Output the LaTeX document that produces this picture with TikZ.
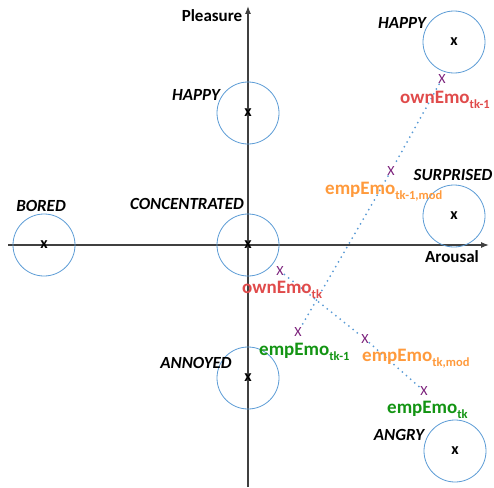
\documentclass[tikz,border=0pt]{standalone}
\usepackage{fontspec}
\setmainfont{Carlito}
\usetikzlibrary{arrows.meta}
\definecolor{cblue}{HTML}{5B9BD5}
\definecolor{cred}{HTML}{E04B4B}
\definecolor{corange}{HTML}{FF9A3C}
\definecolor{cgreen}{HTML}{139413}
\definecolor{cpurple}{HTML}{7A1F7A}
\definecolor{caxis}{HTML}{404040}
\newcommand{\lowsub}[1]{\raisebox{-0.6ex}{\fontsize{12.5}{12.5}\selectfont #1}}
\tikzset{
  x=1pt,y=-1pt,
  emo/.style={circle,draw=cblue,line width=0.8pt,minimum size=62pt,inner sep=0pt,font=\bfseries\fontsize{16}{16}\selectfont},
  emolabel/.style={font=\bfseries\itshape\fontsize{17}{17}\selectfont,inner sep=0pt},
  axislabel/.style={font=\bfseries\fontsize{17}{17}\selectfont,inner sep=0pt},
  xmark/.style={text=cpurple,font=\fontsize{14}{14}\selectfont,inner sep=0.5pt},
  vlabel/.style={font=\bfseries\fontsize{19}{19}\selectfont,inner sep=0pt,anchor=base west},
  axis/.style={draw=caxis,line width=1.2pt,-{Latex[length=8pt,width=6pt]}},
  traj/.style={draw=cblue,line width=2pt,dash pattern=on 0pt off 5.5pt,line cap=round}
}
\begin{document}
\begin{tikzpicture}
\useasboundingbox (0,0) rectangle (494,487);
% axes
\coordinate (xs) at (8,245);
\coordinate (xe) at (489,245);
\coordinate (ys) at (248,487);
\coordinate (ye) at (248,6);
\draw[axis] (xs) -- (xe);
\draw[axis] (ys) -- (ye);
\node[axislabel] (pleasure) at (212,16) {Pleasure};
\node[axislabel] (arousal) at (452,257) {Arousal};
% emotion circles
\node[emo] (bored) at (44,245) {x};
\node[emo] (happyc) at (248,113) {x};
\node[emo] (conc) at (248,245) {x};
\node[emo] (annoyed) at (248,378) {x};
\node[emo] (happyr) at (454,42) {x};
\node[emo] (surpr) at (454,216) {x};
\node[emo] (angry) at (455,451) {x};
% emotion labels
\node[emolabel] (lbored) at (41,206) {BORED};
\node[emolabel] (lconc) at (187,204) {CONCENTRATED};
\node[emolabel] (lhappyc) at (196,95) {HAPPY};
\node[emolabel] (lannoyed) at (196,363) {ANNOYED};
\node[emolabel] (lhappyr) at (402,23) {HAPPY};
\node[emolabel] (lsurpr) at (453,175) {SURPRISED};
\node[emolabel] (langry) at (399,435) {ANGRY};
% marks
\node[xmark] (ownA) at (442,79) {X};
\node[xmark] (empAmod) at (391,171) {X};
\node[xmark] (empA) at (298,332) {X};
\node[xmark] (ownB) at (280,271) {X};
\node[xmark] (empBmod) at (365,339) {X};
\node[xmark] (empB) at (424,391) {X};
% trajectories
\draw[traj] (ownA) -- (empAmod) -- (empA);
\draw[traj] (ownB) -- (empBmod) -- (empB);
% value labels
\node[vlabel,text=cred] (lownA) at (400,103) {ownEmo\lowsub{tk-1}};
\node[vlabel,text=corange] (lempAmod) at (325,194) {empEmo\lowsub{tk-1,mod}};
\node[vlabel,text=cred] (lownB) at (242,293) {ownEmo\lowsub{tk}};
\node[vlabel,text=cgreen] (lempA) at (259,355) {empEmo\lowsub{tk-1}};
\node[vlabel,text=corange] (lempBmod) at (362,361) {empEmo\lowsub{tk,mod}};
\node[vlabel,text=cgreen] (lempB) at (387,413) {empEmo\lowsub{tk}};
\end{tikzpicture}
\end{document}
